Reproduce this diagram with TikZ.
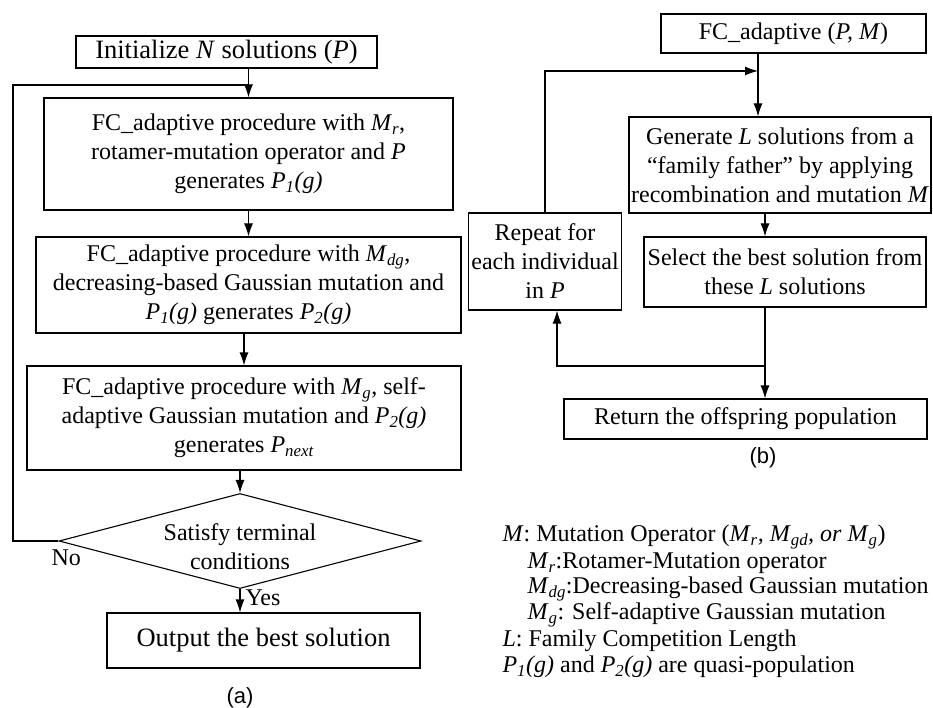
\documentclass[tikz,border=0pt]{standalone}
\usepackage{fontspec}
\setmainfont{Liberation Serif}
\newfontfamily\capfont{Liberation Sans}
\usepackage{tikz}
\usetikzlibrary{shapes,arrows.meta}
\usetikzlibrary{calc}
\usetikzlibrary{positioning}

\newcommand{\isub}[1]{\textsubscript{\textit{#1}}}

\begin{document}
\begin{tikzpicture}[x=1pt, y=-1pt, line width=1.1pt, >={Latex[length=13pt,width=9pt]},
    box/.style={draw, align=center, inner sep=0pt, font=\fontsize{24}{29}\selectfont},
    bigbox/.style={box, font=\fontsize{26.5}{30}\selectfont},
    decision/.style={draw, diamond, inner sep=0pt, minimum width=362pt, minimum height=95pt},
    note/.style={anchor=west, inner sep=0pt, font=\fontsize{24}{26}\selectfont},
    caption/.style={inner sep=0pt, font=\capfont\fontsize{22}{24}\selectfont}]
    \useasboundingbox (0,0) rectangle (933,708);

    % (a) main loop
    \node[bigbox, minimum width=301pt, minimum height=32pt] (init) at (226.5,52) {Initialize \textit{N} solutions (\textit{P})};
    \node[box, minimum width=409pt, minimum height=112pt] (b1) at (248.5,154)
        {FC\_adaptive procedure with \textit{M}\isub{r},\\rotamer-mutation operator and \textit{P}\\generates \textit{P}\isub{1}\textit{(g)}};
    \node[box, minimum width=425pt, minimum height=96pt] (b2) at (248.5,285)
        {FC\_adaptive procedure with \textit{M}\isub{dg},\\decreasing-based Gaussian mutation and\\\textit{P}\isub{1}\textit{(g)} generates \textit{P}\isub{2}\textit{(g)}};
    \node[box, minimum width=434pt, minimum height=104pt] (b3) at (244,418)
        {FC\_adaptive procedure with \textit{M}\isub{g}, self-\\adaptive Gaussian mutation and \textit{P}\isub{2}\textit{(g)}\\generates \textit{P}\isub{next}};
    \node[decision] (cond) at (240,541) {};
    \node[box, draw=none] (condtxt) at (240,547) {Satisfy terminal\\conditions};
    \node[bigbox, minimum width=313pt, minimum height=55pt] (out) at (263.5,640.5) {Output the best solution};
    \node[box, draw=none, anchor=west] (no) at (51,558) {No};
    \node[box, draw=none, anchor=west] (yes) at (245,598) {Yes};
    \node[caption] (capa) at (240,698) {(a)};
    \coordinate (loopl) at (13,85);
    \coordinate (join) at (248.5,85);

    \draw[->] (init.south -| b1.north) -- (b1.north);
    \draw[->] (b1.south) -- (b2.north);
    \draw[->] (b2.south -| b3.north) -- (b3.north);
    \draw[->] (b3.south -| cond.north) -- (cond.north);
    \draw[->] (cond.south) -- (cond.south |- out.north);
    \draw (cond.west) -| (loopl) -- (join);

    % (b) FC_adaptive
    \node[box, minimum width=265pt, minimum height=39pt] (fcad) at (793.5,33.5) {FC\_adaptive (\textit{P, M})};
    \node[box, minimum width=302pt, minimum height=96pt] (gen) at (780,165)
        {Generate \textit{L} solutions from a\\``family father'' by applying\\recombination and mutation \textit{M}};
    \node[box, minimum width=282pt, minimum height=70pt] (sel) at (785,272)
        {Select the best solution from\\these \textit{L} solutions};
    \node[box, minimum width=153pt, minimum height=97pt] (rep) at (545,261.5)
        {Repeat for\\each individual\\in \textit{P}};
    \node[box, minimum width=363pt, minimum height=40pt] (ret) at (745.5,419) {Return the offspring population};
    \node[caption] (capb) at (763,458) {(b)};
    \coordinate (rjoin) at (758,71);
    \coordinate (rsplit) at (765,366);

    \draw[->] (fcad.south -| rjoin) -- (gen.north -| rjoin);
    \draw[->] (rep.north) |- (rjoin);
    \draw[->] (gen.south -| rsplit) -- (sel.north -| rsplit);
    \draw[->] (sel.south -| rsplit) -- (ret.north -| rsplit);
    \draw[->] (rsplit) -| ($(rep.south)+(12,0)$);

    % legend
    \node[note] (lgm) at (502,537) {\textit{M}: Mutation Operator (\textit{M}\isub{r}\textit{, M}\isub{gd}\textit{, or M}\isub{g})};
    \node[note] (lgr) at (527,563) {\textit{M}\isub{r}:Rotamer-Mutation operator};
    \node[note] (lgdg) at (527,589) {\textit{M}\isub{dg}:Decreasing-based Gaussian mutation};
    \node[note] (lgg) at (527,615) {\textit{M}\isub{g}: Self-adaptive Gaussian mutation};
    \node[note] (lgl) at (502,641) {\textit{L}: Family Competition Length};
    \node[note] (lgp) at (502,667) {\textit{P}\isub{1}\textit{(g)} and \textit{P}\isub{2}\textit{(g)} are quasi-population};
\end{tikzpicture}
\end{document}
